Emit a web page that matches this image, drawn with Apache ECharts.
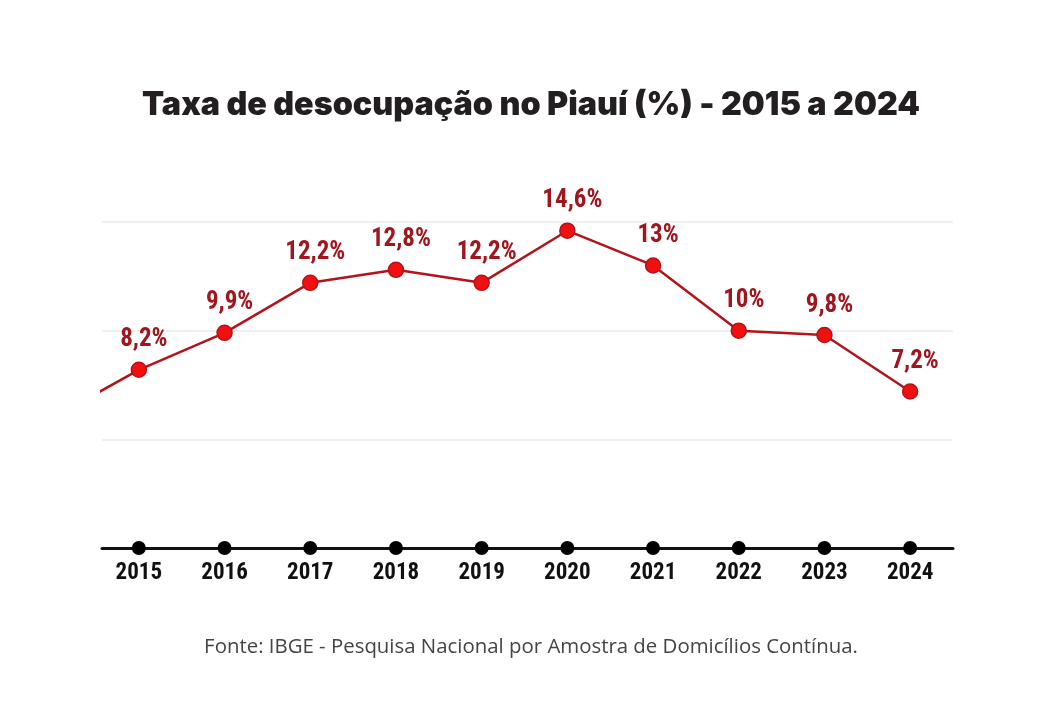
<!DOCTYPE html>
<html>
<head>
<meta charset="utf-8">
<script src="https://cdn.jsdelivr.net/npm/echarts@6/dist/echarts.min.js"></script>
<style>
  html, body { margin: 0; padding: 0; background: #ffffff; }
  #chart { width: 1062px; height: 712px; }
</style>
</head>
<body>
<div id="chart"></div>
<script>
// ---- data ----
const years = [2015, 2016, 2017, 2018, 2019, 2020, 2021, 2022, 2023, 2024];
const rates = [8.2, 9.9, 12.2, 12.8, 12.2, 14.6, 13.0, 10.0, 9.8, 7.2];
// previous year, only visible as a clipped stub at the left edge
const prevYear = 2014;
const prevRate = 6.0;
const yTicks = [0, 5, 10, 15];

const titleText = 'Taxa de desocupação no Piauí (%) - 2015 a 2024';
const sourceText = 'Fonte: IBGE - Pesquisa Nacional por Amostra de Domicílios Contínua.';

const condensed = "'Roboto Condensed', 'DejaVu Sans Condensed', Roboto, sans-serif";

const chart = echarts.init(document.getElementById('chart'));

const lineData = [{ value: [prevYear, prevRate], symbol: 'none', label: { show: false } }]
  .concat(years.map((y, i) => [y, rates[i]]));

const fmt = v => String(v).replace('.', ',') + '%';

chart.setOption({
  backgroundColor: '#ffffff',
  animation: false,
  title: [
    {
      text: titleText,
      left: 'center',
      top: 84,
      textStyle: { fontFamily: 'Inter', fontWeight: 900, fontSize: 32.3, color: '#231f20' }
    },
    {
      text: sourceText,
      left: 'center',
      top: 632,
      textStyle: { fontFamily: 'Open Sans', fontWeight: 'normal', fontSize: 20.4, color: '#444444' }
    }
  ],
  grid: { left: 102, right: 109, top: 222, bottom: 164 },
  xAxis: {
    type: 'value',
    min: 2014.57,
    max: 2024.5,
    axisLine: { show: true, onZero: false, lineStyle: { color: '#111111', width: 3 } },
    axisTick: { show: false },
    axisLabel: { show: false },
    splitLine: { show: false }
  },
  yAxis: {
    type: 'value',
    min: yTicks[0],
    max: yTicks[yTicks.length - 1],
    interval: 5,
    axisLine: { show: false },
    axisTick: { show: false },
    axisLabel: { show: false },
    splitLine: { show: true, lineStyle: { color: '#ebebeb', width: 1.5 } }
  },
  series: [
    {
      type: 'line',
      data: lineData,
      clip: true,
      z: 3,
      symbol: 'circle',
      symbolSize: 15,
      lineStyle: { color: '#b3141b', width: 2.5 },
      itemStyle: { color: '#f01010', borderColor: '#b3141b', borderWidth: 1.5 },
      label: {
        show: true,
        position: 'top',
        distance: 9,
        offset: [5, 0],
        formatter: p => fmt(p.value[1]),
        fontFamily: condensed,
        fontWeight: 'bold',
        fontSize: 25,
        color: '#a0161e'
      }
    },
    {
      type: 'scatter',
      data: years.map(y => [y, 0]),
      symbol: 'circle',
      symbolSize: 14,
      z: 4,
      clip: false,
      itemStyle: { color: '#000000', opacity: 1 },
      label: {
        show: true,
        position: 'bottom',
        distance: 7,
        formatter: p => String(p.value[0]),
        fontFamily: condensed,
        fontWeight: 'bold',
        fontSize: 23,
        color: '#111111'
      }
    }
  ]
});
</script>
</body>
</html>
